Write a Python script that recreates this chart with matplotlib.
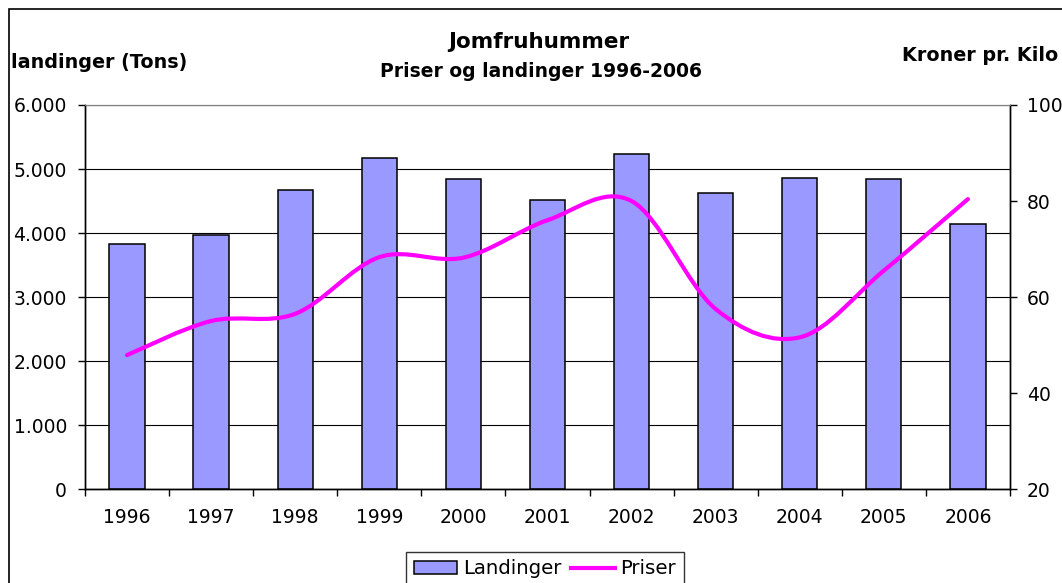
import matplotlib.pyplot as plt
from matplotlib.path import Path
from matplotlib.patches import PathPatch, Rectangle
from matplotlib.lines import Line2D
from matplotlib.ticker import FuncFormatter

years = ['1996', '1997', '1998', '1999', '2000', '2001',
         '2002', '2003', '2004', '2005', '2006']
landinger = [3830, 3970, 4670, 5170, 4845, 4515, 5235, 4625, 4860, 4845, 4140]
priser = [47.9, 55.0, 56.5, 68.3, 68.2, 76.0, 80.0, 57.5, 51.6, 65.5, 80.4]

bar_color = '#9999FF'
line_color = '#FF00FF'

plt.rcParams['font.family'] = 'DejaVu Sans'

fig = plt.figure(figsize=(10.62, 5.83), dpi=100)
ax = fig.add_axes([0.080, 0.1612, 0.871, 0.6587])
ax2 = ax.twinx()

x = list(range(len(years)))
ax.bar(x, landinger, width=0.42, color=bar_color, edgecolor='black',
       linewidth=1.1, zorder=3)

# smooth line like Excel: cubic bezier segments through the data points
pts = list(zip(x, priser))
verts = [pts[0]]
codes = [Path.MOVETO]
for i in range(len(pts) - 1):
    p0 = pts[max(i - 1, 0)]
    p1 = pts[i]
    p2 = pts[i + 1]
    p3 = pts[min(i + 2, len(pts) - 1)]
    c1 = (p1[0] + (p2[0] - p0[0]) / 6, p1[1] + (p2[1] - p0[1]) / 6)
    c2 = (p2[0] - (p3[0] - p1[0]) / 6, p2[1] - (p3[1] - p1[1]) / 6)
    verts += [c1, c2, p2]
    codes += [Path.CURVE4] * 3
ax2.add_patch(PathPatch(Path(verts, codes), facecolor='none',
                        edgecolor=line_color, linewidth=3, capstyle='round',
                        zorder=4))

ax.set_xlim(-0.5, len(years) - 0.5)
ax.set_ylim(0, 6000)
ax2.set_ylim(20, 100)

ax.set_yticks(range(0, 6001, 1000))
ax.yaxis.set_major_formatter(FuncFormatter(lambda v, p: f'{int(v):,}'.replace(',', '.')))
ax2.set_yticks([20, 40, 60, 80, 100])

ax.set_xticks(x)
ax.set_xticklabels(years)
ax.set_xticks([i - 0.5 for i in range(len(years) + 1)], minor=True)
ax.tick_params(axis='x', which='major', length=0, pad=14, labelsize=13.5)
ax.tick_params(axis='x', which='minor', length=5, width=1)
ax.tick_params(axis='y', length=5, width=1, pad=8, labelsize=13.5)
ax2.tick_params(axis='y', length=5, width=1, pad=7, labelsize=13.5)

ax.grid(axis='y', color='black', linewidth=0.8, zorder=0)
ax.set_axisbelow(True)
for a in (ax, ax2):
    a.spines['top'].set_color('#808080')
    a.spines['left'].set_linewidth(1)
    a.spines['right'].set_linewidth(1)
    a.spines['bottom'].set_linewidth(1)
ax2.patch.set_visible(False)

fig.text(0.507, 0.928, 'Jomfruhummer', ha='center', va='center',
         fontsize=15.5, fontweight='bold')
fig.text(0.509, 0.878, 'Priser og landinger 1996-2006', ha='center',
         va='center', fontsize=13.5, fontweight='bold')
fig.text(0.010, 0.893, 'landinger (Tons)', ha='left', va='center',
         fontsize=13.8, fontweight='bold')
fig.text(0.849, 0.905, 'Kroner pr. Kilo', ha='left', va='center',
         fontsize=13.8, fontweight='bold')

# outer chart border, cut off at the right and bottom
fig.patches.append(Rectangle((9 / 1062, -0.2), 1.2, 1.2 - 9 / 583,
                             transform=fig.transFigure, fill=False,
                             edgecolor='black', linewidth=1.2))

handles = [Rectangle((0, 0), 1, 1, facecolor=bar_color, edgecolor='black',
                     linewidth=1.1),
           Line2D([0], [0], color=line_color, linewidth=3)]
leg = fig.legend(handles, ['Landinger', 'Priser'], loc='upper center',
                 bbox_to_anchor=(0.513, 0.054), ncol=2, fontsize=14.2,
                 frameon=True, fancybox=False, handlelength=2.2,
                 handleheight=0.7, handletextpad=0.3, columnspacing=0.5,
                 borderpad=0.4, borderaxespad=0)
leg.get_frame().set_edgecolor('black')
leg.get_frame().set_linewidth(1)

fig.savefig('out.png', dpi=100)
